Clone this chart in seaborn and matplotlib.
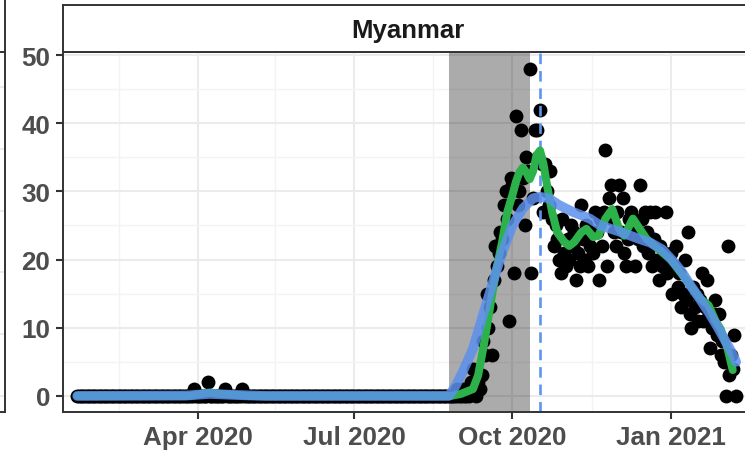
import numpy as np
import pandas as pd
import matplotlib
matplotlib.use("Agg")
import matplotlib.pyplot as plt
import seaborn as sns

# ---------------- data ----------------
panel_title = "Myanmar"

first_day = "2020-01-22"          # first reported day (value 0)
last_zero_day = "2020-08-24"      # last day of the flat early period
early_case_dates = ["2020-03-30", "2020-04-07", "2020-04-17", "2020-04-27"]
early_case_values = [1, 2, 1, 1]

late_start = "2020-08-25"
aug_cases = [0, 0, 0, 0, 0, 1, 0]
sep_cases = [0, 1, 0, 0, 1, 0, 2, 4, 1, 0,
             2, 1, 3, 8, 6, 15, 10, 13, 6, 17,
             22, 19, 21, 24, 23, 28, 30, 26, 11, 32]
oct_cases = [31, 18, 41, 28, 30, 39, 32, 25, 35, 33,
             48, 18, 29, 39, 39, 35, 42, 34, 27, 34,
             30, 28, 33, 26, 22, 25, 23, 20, 18, 26, 21]
nov_cases = [19, 23, 20, 25, 22, 24, 17, 21, 19, 28,
             23, 20, 25, 19, 22, 24, 21, 27, 24, 17,
             26, 22, 27, 36, 19, 29, 31, 26, 24, 22]
dec_cases = [27, 31, 24, 29, 21, 19, 23, 26, 27, 24,
             19, 25, 23, 31, 26, 22, 27, 24, 21, 27,
             19, 23, 27, 20, 17, 22, 19, 21, 27, 18, 20]
jan_cases = [21, 15, 19, 22, 16, 18, 13, 15, 20, 14,
             24, 12, 10, 16, 13, 15, 11, 14, 18, 11,
             13, 17, 12, 7, 10, 12, 14, 9, 12, 6, 8]
feb_cases = [5, 0, 22, 3, 6, 4, 9, 0]

# 7-day average (green)
green_dates = ["2020-01-22", "2020-03-27", "2020-04-03", "2020-04-08", "2020-04-14",
               "2020-04-24", "2020-05-01", "2020-08-26", "2020-09-01", "2020-09-05",
               "2020-09-08", "2020-09-11", "2020-09-14", "2020-09-17", "2020-09-19",
               "2020-09-22", "2020-09-25", "2020-09-28", "2020-10-01", "2020-10-03",
               "2020-10-05", "2020-10-07", "2020-10-09", "2020-10-11", "2020-10-13",
               "2020-10-15", "2020-10-17", "2020-10-19", "2020-10-21", "2020-10-24",
               "2020-10-27", "2020-10-31", "2020-11-03", "2020-11-06", "2020-11-10",
               "2020-11-13", "2020-11-17", "2020-11-20", "2020-11-24", "2020-11-28",
               "2020-12-02", "2020-12-05", "2020-12-10", "2020-12-14", "2020-12-18",
               "2020-12-25", "2021-01-01", "2021-01-07", "2021-01-13", "2021-01-18",
               "2021-01-23", "2021-01-27", "2021-01-30", "2021-02-03", "2021-02-06"]
green_values = [0, 0, 0.3, 0.5, 0.3,
                0.15, 0, 0, 0.3, 0.7,
                1.0, 3, 7, 11.5, 14.7,
                19, 22.6, 27, 29.5, 31.4,
                32.8, 33.5, 32.8, 31.8, 33,
                35.3, 36, 34, 31, 27,
                24, 22.6, 22, 22.6, 24,
                24.5, 23.3, 23.5, 26, 27.4,
                24.5, 23.5, 26, 24.5, 23,
                21.5, 20, 18, 16, 14.3,
                13.3, 11, 9.8, 7, 3.8]

# smooth trend (blue)
blue_dates = ["2020-01-22", "2020-03-25", "2020-04-08", "2020-04-22", "2020-05-10",
              "2020-08-25", "2020-08-29", "2020-09-02", "2020-09-08", "2020-09-14",
              "2020-09-20", "2020-09-25", "2020-10-01", "2020-10-07", "2020-10-13",
              "2020-10-17", "2020-10-22", "2020-10-28", "2020-11-05", "2020-11-15",
              "2020-11-21", "2020-12-01", "2020-12-14", "2020-12-20", "2020-12-27",
              "2021-01-03", "2021-01-08", "2021-01-13", "2021-01-18", "2021-01-23",
              "2021-01-28", "2021-02-01", "2021-02-05", "2021-02-08"]
blue_values = [0, 0.05, 0.3, 0.15, 0,
               0, 1.5, 3.5, 6.9, 12,
               17, 21, 25, 27.5, 29,
               29.2, 29, 28, 27, 26,
               25, 24.2, 23, 22.5, 21.5,
               19.6, 18, 16, 14.2, 12.3,
               10.2, 8.4, 6.6, 5]

shade_start, shade_end = "2020-08-25", "2020-10-11"
peak_date = "2020-10-17"

x_tick_dates = ["2020-04-01", "2020-07-01", "2020-10-01", "2021-01-01"]
x_tick_labels = ["Apr 2020", "Jul 2020", "Oct 2020", "Jan 2021"]
x_minor_dates = ["2020-02-15", "2020-05-16", "2020-08-16", "2020-11-16", "2021-02-15"]
y_ticks = [0, 10, 20, 30, 40, 50]
y_minor = [5, 15, 25, 35, 45]

# ---------------- build tables ----------------
early_idx = pd.date_range(first_day, last_zero_day, freq="D")
early = pd.Series(0.0, index=early_idx)
early.loc[pd.to_datetime(early_case_dates)] = early_case_values
late_vals = aug_cases + sep_cases + oct_cases + nov_cases + dec_cases + jan_cases + feb_cases
late = pd.Series(late_vals, index=pd.date_range(late_start, periods=len(late_vals), freq="D"),
                 dtype=float)
cases = pd.concat([early, late]).rename_axis("date").reset_index(name="cases")

green = pd.DataFrame({"date": pd.to_datetime(green_dates), "value": green_values})
blue = pd.DataFrame({"date": pd.to_datetime(blue_dates), "value": blue_values})

# ---------------- style ----------------
sns.set_theme(style="white")
plt.rcParams['font.family'] = ['Liberation Sans', 'DejaVu Sans']

W, H = 745, 456
fig = plt.figure(figsize=(W / 100, H / 100), dpi=100)
fig.patch.set_facecolor("white")


def px_rect(x0, y0, x1, y1):
    return [x0 / W, 1 - y1 / H, (x1 - x0) / W, (y1 - y0) / H]


border = "#333333"
grid_major = "#EBEBEB"
grid_minor = "#F3F3F3"

# partial neighbouring panel on the far left
left_ax = fig.add_axes(px_rect(-300, 53.3, 5, 413.3))
left_ax.set_xlim(0, 1)
left_ax.set_ylim(413.3, 53.3)
for yy in [88, 150, 212, 273, 335, 397]:
    left_ax.axhline(yy, color=grid_major, lw=1.4, zorder=0)
left_ax.set_xticks([]); left_ax.set_yticks([])
for s in left_ax.spines.values():
    s.set_color(border); s.set_linewidth(1.4)
left_strip = fig.add_axes(px_rect(-300, -20, 5, 53.3))
left_strip.set_xticks([]); left_strip.set_yticks([])
for s in left_strip.spines.values():
    s.set_color(border); s.set_linewidth(1.4)

# main panel
ax = fig.add_axes(px_rect(63.3, 53.3, 753, 413.3))
ax.set_facecolor("white")
ax.set_xlim(pd.Timestamp("2020-04-01") - pd.Timedelta(days=78.1),
            pd.Timestamp("2021-01-01") + pd.Timedelta(days=47.8))
ax.set_ylim(-2.4, 50.4)

ax.axvspan(pd.Timestamp(shade_start), pd.Timestamp(shade_end), color="black",
           alpha=0.33, lw=0, zorder=1.5)
sns.scatterplot(data=cases, x="date", y="cases", color="black", s=100, linewidth=0,
                ax=ax, zorder=3, legend=False)
ax.axvline(pd.Timestamp(peak_date), color="#5E95F0", lw=1.9,
           linestyle=(0, (4, 2.6)), zorder=3.5)
sns.lineplot(data=green, x="date", y="value", color="#2DB24B", lw=5.8, ax=ax,
             zorder=4, estimator=None, solid_capstyle="round", solid_joinstyle="round")
sns.lineplot(data=blue, x="date", y="value", color="#5C90EC", lw=7.0, alpha=0.85, ax=ax,
             zorder=5, estimator=None, solid_capstyle="round", solid_joinstyle="round")

ax.set_xticks(pd.to_datetime(x_tick_dates))
ax.set_xticklabels(x_tick_labels, fontweight="bold")
ax.set_xticks(pd.to_datetime(x_minor_dates), minor=True)
ax.set_yticks(y_ticks)
ax.set_yticklabels([str(v) for v in y_ticks], fontweight="bold")
ax.set_yticks(y_minor, minor=True)
ax.grid(which="major", color=grid_major, lw=1.5, zorder=0)
ax.grid(which="minor", color=grid_minor, lw=1.0, zorder=0)
ax.set_axisbelow(True)
ax.tick_params(which="major", length=5, width=1.5, color=border, labelsize=18.7,
               labelcolor="#4D4D4D", pad=4.5, bottom=True, left=True)
ax.tick_params(which="minor", length=0)
ax.set_xlabel(""); ax.set_ylabel("")
for s in ax.spines.values():
    s.set_color(border); s.set_linewidth(1.4); s.set_zorder(6)

# facet strip
strip = fig.add_axes(px_rect(63.3, 5.5, 753, 53.3))
strip.set_facecolor("white")
strip.set_xticks([]); strip.set_yticks([])
for s in strip.spines.values():
    s.set_color(border); s.set_linewidth(1.4)
strip.text(0.5, 0.47, panel_title, ha="center", va="center", fontsize=18.5,
           fontweight="bold", color="#1A1A1A", transform=strip.transAxes)

fig.savefig("out.png", dpi=100)
